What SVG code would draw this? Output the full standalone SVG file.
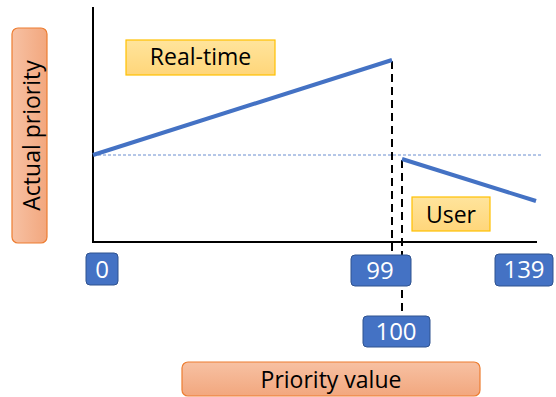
<svg xmlns="http://www.w3.org/2000/svg" width="556" height="397" viewBox="0 0 556 397">
<defs>
<linearGradient id="gOrV" x1="0" y1="0" x2="0" y2="1"><stop offset="0" stop-color="#F7C1A3"/><stop offset="1" stop-color="#F2A77E"/></linearGradient>
<linearGradient id="gOrH" x1="0" y1="0" x2="1" y2="0"><stop offset="0" stop-color="#F7C1A3"/><stop offset="1" stop-color="#F2A77E"/></linearGradient>
<linearGradient id="gY" x1="0" y1="0" x2="0" y2="1"><stop offset="0" stop-color="#FFE49C"/><stop offset="1" stop-color="#FFD67A"/></linearGradient>
<style>
.ax{stroke:#000;stroke-width:2;fill:none}
.curve{stroke:#4472C4;stroke-width:4;fill:none}
.dash{stroke:#000;stroke-width:2;stroke-dasharray:8,5;fill:none}
.dot{stroke:#4472C4;stroke-width:0.8;stroke-dasharray:3,2;fill:none}
.num rect{fill:#4472C4;stroke:#2F528F;stroke-width:1}
.num text{fill:#fff;font-family:"Open Sans","Liberation Sans",sans-serif;font-size:24px;text-anchor:middle}
.lab rect{fill:url(#gY);stroke:#FFC000;stroke-width:1.2}
.lab text,.ttl text{fill:#000;font-family:"Open Sans","Liberation Sans",sans-serif;font-size:23px;text-anchor:middle}
.ttl rect{stroke:#ED7D31;stroke-width:1.2}
</style>
</defs>
<g id="connectors">
<line class="dot" x1="93" y1="155" x2="543" y2="155"/>
<line class="dash" x1="392" y1="61" x2="392" y2="255"/>
<line class="dash" x1="402" y1="160" x2="402" y2="314"/>
<polyline class="ax" points="93,7 93,242 537,242"/>
<line class="curve" x1="93" y1="155" x2="392" y2="60"/>
<line class="curve" x1="402" y1="159" x2="536" y2="201"/>
</g>
<g id="realtime" class="lab"><rect x="126" y="40" width="149" height="35"/><text x="200.5" y="65">Real-time</text></g>
<g id="user" class="lab"><rect x="412" y="197" width="78" height="34"/><text x="451" y="222.5">User</text></g>
<g id="actual" class="ttl"><rect x="12" y="28" width="35" height="215" rx="6" fill="url(#gOrH)"/><text transform="translate(39.5,135.5) rotate(-90)" x="0" y="0">Actual priority</text></g>
<g id="pvalue" class="ttl"><rect x="182" y="362" width="298" height="34" rx="6" fill="url(#gOrV)"/><text x="331" y="387.5">Priority value</text></g>
<g id="n0" class="num"><rect x="86" y="253" width="32" height="32" rx="4"/><text x="102" y="278">0</text></g>
<g id="n99" class="num"><rect x="351" y="255" width="60" height="31" rx="4"/><text x="380" y="279">99</text></g>
<g id="n139" class="num"><rect x="495" y="254" width="58" height="32" rx="4"/><text x="524" y="278">139</text></g>
<g id="n100" class="num"><rect x="363" y="316" width="67" height="31" rx="4"/><text x="396" y="340">100</text></g>
</svg>
